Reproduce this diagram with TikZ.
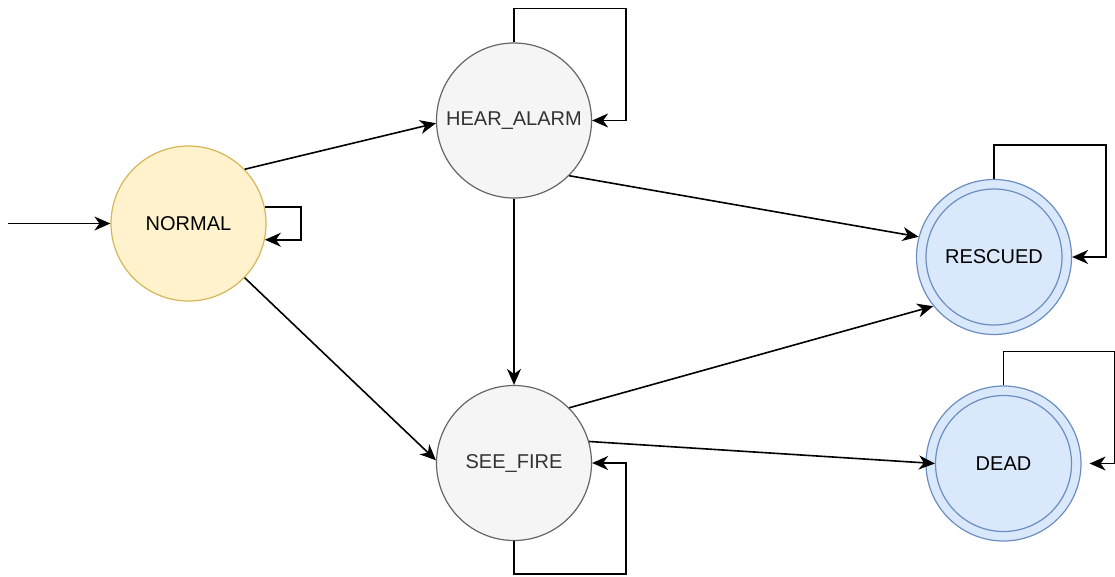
\documentclass[tikz,border=0pt]{standalone}
\usepackage{fontspec}
\setmainfont{Liberation Sans}
\usetikzlibrary{arrows.meta}
\definecolor{yfill}{HTML}{FFF2CC}
\definecolor{ydraw}{HTML}{D6B656}
\definecolor{gfill}{HTML}{F5F5F5}
\definecolor{gdraw}{HTML}{666666}
\definecolor{gtext}{HTML}{333333}
\definecolor{bfill}{HTML}{DAE8FC}
\definecolor{bdraw}{HTML}{6C8EBF}
\tikzset{
  state/.style={circle, minimum size=155pt, inner sep=0pt, line width=1.2pt, font=\fontsize{20}{24}\selectfont},
  ystate/.style={state, draw=ydraw, fill=yfill, text=black},
  gstate/.style={state, draw=gdraw, fill=gfill, text=gtext},
  bstate/.style={state, draw=bdraw, fill=bfill, text=black},
  binner/.style={circle, minimum size=136pt, inner sep=0pt, line width=1.2pt, draw=bdraw},
  conn/.style={line width=1.6pt, -{Stealth[length=16pt, width=14pt, inset=5pt]}},
}
\begin{document}
\begin{tikzpicture}[x=1pt, y=-1pt]
\useasboundingbox (0,0) rectangle (1115,576);
\node[ystate] (NORMAL) at (188.5,223.5) {NORMAL};
\node[gstate] (HEAR) at (514,120.5) {HEAR\_ALARM};
\node[gstate] (SEE) at (514,463) {SEE\_FIRE};
\node[bstate] (RESCUED) at (994,257) {};
\node[binner] (RESCUEDin) at (RESCUED.center) {};
\node[font=\fontsize{20}{24}\selectfont] (RESCUEDt) at (RESCUED.center) {RESCUED};
\node[bstate] (DEAD) at (1003.5,463.5) {};
\node[binner] (DEADin) at (DEAD.center) {};
\node[font=\fontsize{20}{24}\selectfont] (DEADt) at (DEAD.center) {DEAD};
\coordinate (init) at (8,223.5);

\draw[conn] (init) -- (NORMAL.west);
\draw[conn] (NORMAL.12) -- ++(36,0) |- (NORMAL.-12);
\draw[conn] (NORMAL.44.5) -- (HEAR.182);
\draw[conn] (NORMAL.-44) -- (SEE.178);
\draw[conn] (HEAR.south) -- (SEE.north);
\draw[conn] (HEAR.-45.5) -- (RESCUED.165);
\draw[conn] (SEE.45.5) -- (RESCUED.219);
\draw[conn] (SEE.16) -- (DEADin.west);
\draw[conn] (HEAR.north) -- ++(0,-34) -| ([xshift=34pt]HEAR.east) -- (HEAR.east);
\draw[conn] (SEE.south) -- ++(0,33) -| ([xshift=34pt]SEE.east) -- (SEE.east);
\draw[conn] (RESCUED.north) -- ++(0,-34) -| ([xshift=34pt]RESCUED.east) -- (RESCUED.east);
\draw[conn] (DEAD.north) -- ++(0,-34) -| ([xshift=33pt]DEAD.east) -- ([xshift=8pt]DEAD.east);
\end{tikzpicture}
\end{document}
